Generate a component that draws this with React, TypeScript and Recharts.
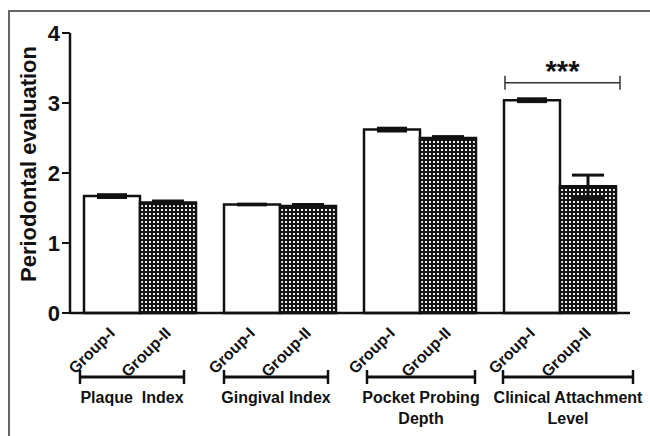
import { BarChart, Bar, XAxis, YAxis, ErrorBar } from 'recharts';

// values (mean ± error)
const categoryLines = [
  ['Plaque  Index'],
  ['Gingival Index'],
  ['Pocket Probing', 'Depth'],
  ['Clinical Attachment', 'Level'],
];
const groupNames = ['Group-I', 'Group-II'];
const group1 = [1.67, 1.55, 2.62, 3.04];
const group2 = [1.58, 1.53, 2.5, 1.81];
const err1 = [0.02, 0.005, 0.02, 0.02];
const err2 = [0.02, 0.02, 0.02, 0.16];
const yTicks = [0, 1, 2, 3, 4];

// significance bracket between the two Clinical Attachment Level bars
const sigIndex = 3;
const sigLevel = 3.29;
const sigText = '***';

// bracket under each category, offsets from the category centre
const BRACKETS: [number, number][] = [[-60, 44], [-56, 48], [-53, 55], [-57, 73]];

const FONT = '"Liberation Sans", Arial, sans-serif';

const data = categoryLines.map((lines, i) => ({
  name: lines.join(' '),
  g1: group1[i],
  g2: group2[i],
  e1: err1[i],
  e2: err2[i],
}));

function CategoryTick(props: any) {
  const { x, y, payload } = props;
  const i = payload.index;
  const [b0, b1] = BRACKETS[i];
  const by = y + 64;
  const mid = x + (b0 + b1) / 2;
  return (
    <g fontFamily={FONT} fontWeight="bold" fill="#111">
      {groupNames.map((g, k) => {
        const cx = x + (k === 0 ? -28 : 28) + 4;
        const cy = y + 21;
        return (
          <text key={g} x={cx} y={cy} fontSize={16} textAnchor="end"
            transform={`rotate(-45 ${cx} ${cy})`}>{g}</text>
        );
      })}
      <line x1={x + b0} x2={x + b1} y1={by} y2={by} stroke="#111" strokeWidth={3} />
      <line x1={x + b0} x2={x + b0} y1={by - 7} y2={by + 7} stroke="#111" strokeWidth={2.5} />
      <line x1={x + b1} x2={x + b1} y1={by - 7} y2={by + 7} stroke="#111" strokeWidth={2.5} />
      {categoryLines[i].map((t, k) => (
        <text key={t} x={mid} y={by + 26 + k * 21} fontSize={16} textAnchor="middle"
          style={{ whiteSpace: 'pre' }}>{t}</text>
      ))}
    </g>
  );
}

function SigLabel(props: any) {
  const { x, y, width, height, index } = props;
  if (index !== sigIndex) return null;
  const v = group1[index];
  const base = y + height;
  const ly = base - (sigLevel * height) / v;
  const x0 = x + 1;
  const x1 = x + width * 2 + 4;
  return (
    <g>
      <line x1={x0} x2={x1} y1={ly} y2={ly} stroke="#333" strokeWidth={1.5} />
      <line x1={x0} x2={x0} y1={ly - 7} y2={ly + 7} stroke="#333" strokeWidth={1.5} />
      <line x1={x1} x2={x1} y1={ly - 7} y2={ly + 7} stroke="#333" strokeWidth={1.5} />
      <text x={(x0 + x1) / 2} y={ly - 2} textAnchor="middle" fontFamily={FONT}
        fontWeight="bold" fontSize={29} fill="#111">{sigText}</text>
    </g>
  );
}

function YLabel(props: any) {
  const vb = props.viewBox;
  const cx = vb.x + 18;
  const cy = vb.y + vb.height / 2 - 9;
  return (
    <text x={cx} y={cy} transform={`rotate(-90 ${cx} ${cy})`} textAnchor="middle"
      dominantBaseline="central" fontFamily={FONT} fontWeight="bold" fontSize={22} fill="#111">
      Periodontal evaluation
    </text>
  );
}

export default function App() {
  return (
    <div style={{ position: 'fixed', left: 0, top: 0, width: 650, height: 436, background: '#fff', overflow: 'hidden' }}>
      <svg width={650} height={436} style={{ position: 'absolute', left: 0, top: 0 }}>
        <defs>
          <pattern id="hatch" width={4} height={4} patternUnits="userSpaceOnUse">
            <rect width={4} height={4} fill="#151515" />
            <rect x={1} y={1} width={2} height={2} fill="#f0f0f0" />
          </pattern>
        </defs>
        <path d="M9 436 V11 H650" fill="none" stroke="#666" strokeWidth={2} />
      </svg>
      <div style={{ position: 'absolute', left: 0, top: 0 }}>
        <BarChart width={650} height={436} data={data}
          margin={{ top: 33, right: 20, bottom: 13, left: 10 }}
          barCategoryGap={14} barGap={0}>
          <XAxis dataKey="name" height={110} tickLine={false} tickSize={0} tickMargin={0}
            axisLine={{ stroke: '#111', strokeWidth: 2.5 }} interval={0}
            tick={<CategoryTick />} />
          <YAxis domain={[0, 4]} ticks={yTicks} width={60} tickSize={8} tickMargin={2}
            axisLine={{ stroke: '#111', strokeWidth: 2.5 }}
            tickLine={{ stroke: '#111', strokeWidth: 2 }}
            tick={{ fontFamily: FONT, fontWeight: 'bold', fontSize: 22, fill: '#111' }}
            label={<YLabel />} />
          <Bar dataKey="g1" fill="#fff" stroke="#111" strokeWidth={2.5}
            isAnimationActive={false} label={<SigLabel />}>
            <ErrorBar dataKey="e1" width={15} stroke="#111" strokeWidth={3} />
          </Bar>
          <Bar dataKey="g2" fill="url(#hatch)" stroke="#111" strokeWidth={2.5}
            isAnimationActive={false}>
            <ErrorBar dataKey="e2" width={16} stroke="#111" strokeWidth={3} />
          </Bar>
        </BarChart>
      </div>
    </div>
  );
}
